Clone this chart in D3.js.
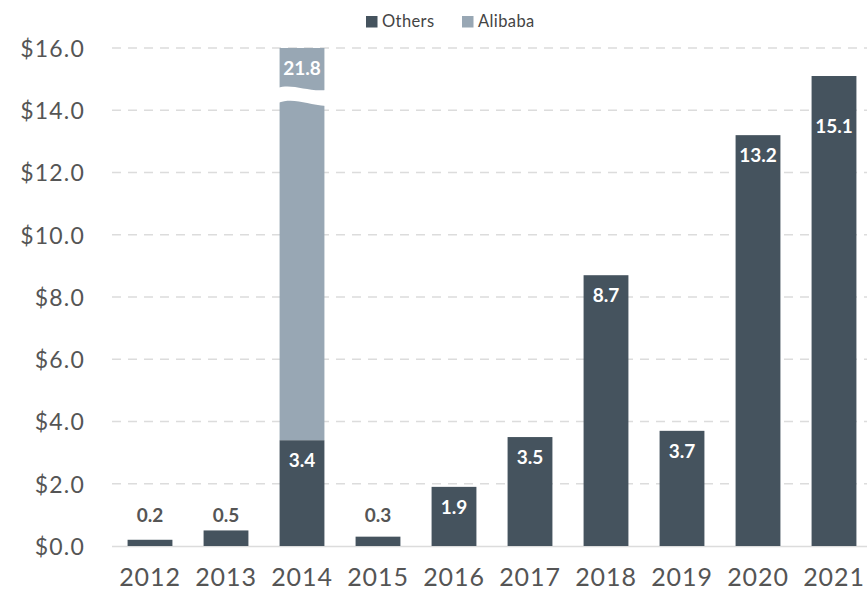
<!DOCTYPE html>
<html><head><meta charset="utf-8">
<script src="https://cdn.jsdelivr.net/npm/d3@7"></script>
<style>body{margin:0;background:#fff}svg{display:block;font-family:Lato,"Open Sans",sans-serif}</style>
</head><body><svg id="c" width="867" height="594"></svg>
<script>
const years = ["2012","2013","2014","2015","2016","2017","2018","2019","2020","2021"];
const others = [0.2,0.5,3.4,0.3,1.9,3.5,8.7,3.7,13.2,15.1];
const alibaba = [0,0,21.8,0,0,0,0,0,0,0];
const yTicks = [0,2,4,6,8,10,12,14,16];
const seriesNames = ["Others","Alibaba"];
const colors = ["#45535e","#98a7b4"];

const svg = d3.select("#c");
const x = d3.scaleBand().domain(years).range([112,872]).paddingInner(0.41).paddingOuter(0.205);
const y = d3.scaleLinear().domain([0,16]).range([546,48]);
const yMax = 16;
const FONT = "Lato,'Open Sans',sans-serif";

// gridlines
svg.append("g").selectAll("line").data(yTicks.filter(d=>d>0)).join("line")
  .attr("x1",112).attr("x2",867).attr("y1",d=>y(d)).attr("y2",d=>y(d))
  .attr("stroke","#dcdcdc").attr("stroke-width",1.4).attr("stroke-dasharray","9,7");
svg.append("line").attr("x1",112).attr("x2",867).attr("y1",y(0)+0.5).attr("y2",y(0)+0.5)
  .attr("stroke","#dcdcdc").attr("stroke-width",1.5);

// y axis labels
const yAxis = d3.axisLeft(y).tickValues(yTicks).tickFormat(d=>"$"+d3.format(".1f")(d)).tickSize(0).tickPadding(0);
const ga = svg.append("g").attr("transform","translate(85,0)").call(yAxis);
ga.select(".domain").remove();
ga.selectAll("text").attr("font-size",23).attr("fill","#555").attr("font-family",FONT)
  .attr("font-weight",400).attr("letter-spacing","1.2px").attr("dy","0.36em");

// x axis labels
const xAxis = d3.axisBottom(x).tickSize(0).tickPadding(0);
const gx = svg.append("g").attr("transform","translate(0,568)").call(xAxis);
gx.select(".domain").remove();
gx.selectAll("text").attr("font-size",25).attr("fill","#555").attr("font-family",FONT)
  .attr("font-weight",400).attr("letter-spacing","0.9px");

// bars
const bw = x.bandwidth();
svg.append("g").selectAll("rect").data(years).join("rect")
  .attr("x",d=>x(d)).attr("width",bw)
  .attr("y",(d,i)=>y(others[i])).attr("height",(d,i)=>y(0)-y(others[i]))
  .attr("fill",colors[0]);
svg.append("g").selectAll("rect").data(years.filter((d,i)=>alibaba[i]>0)).join("rect")
  .attr("x",d=>x(d)).attr("width",bw)
  .attr("y",d=>{const i=years.indexOf(d);return y(Math.min(yMax,others[i]+alibaba[i]));})
  .attr("height",d=>{const i=years.indexOf(d);return y(others[i])-y(Math.min(yMax,others[i]+alibaba[i]));})
  .attr("fill",colors[1]);

// axis break on clipped bar
years.forEach((d,i)=>{
  if(others[i]+alibaba[i] > yMax){
    const x0 = x(d)-2, x1 = x(d)+bw+2, w = x1-x0;
    const t = y(yMax);
    const a = t+40, b = t+55;
    const path = `M${x0},${a} C${x0+w*0.3},${a-5} ${x0+w*0.6},${a+4} ${x1},${a+2} L${x1},${b+3} C${x0+w*0.6},${b+2} ${x0+w*0.35},${b-6} ${x0},${b} Z`;
    svg.append("path").attr("d",path).attr("fill","#fff");
    svg.append("text").attr("x",x(d)+bw/2).attr("y",t+27).attr("text-anchor","middle")
      .attr("font-size",19).attr("font-weight","bold").attr("fill","#fff").text(d3.format(".1f")(alibaba[i]));
  }
});

// value labels for others (kept below the top gridline zone)
const minLabelY = y(yMax)+85;
svg.append("g").selectAll("text").data(years).join("text")
  .attr("x",d=>x(d)+bw/2)
  .attr("y",(d,i)=> others[i] < 1 ? y(0)-24 : Math.max(y(others[i])+27, minLabelY))
  .attr("text-anchor","middle").attr("font-size",19).attr("font-weight","bold")
  .attr("fill",(d,i)=> others[i] < 1 ? "#555" : "#fff")
  .text((d,i)=>d3.format(".1f")(others[i]));

// legend
const lg = svg.append("g");
const lx = [366,462];
seriesNames.forEach((n,i)=>{
  lg.append("rect").attr("x",lx[i]).attr("y",16).attr("width",11.5).attr("height",11.5).attr("fill",colors[i]);
  lg.append("text").attr("x",lx[i]+16).attr("y",27).attr("font-size",16.5).attr("fill","#444")
    .attr("letter-spacing","0.4px").text(n);
});
</script></body></html>
